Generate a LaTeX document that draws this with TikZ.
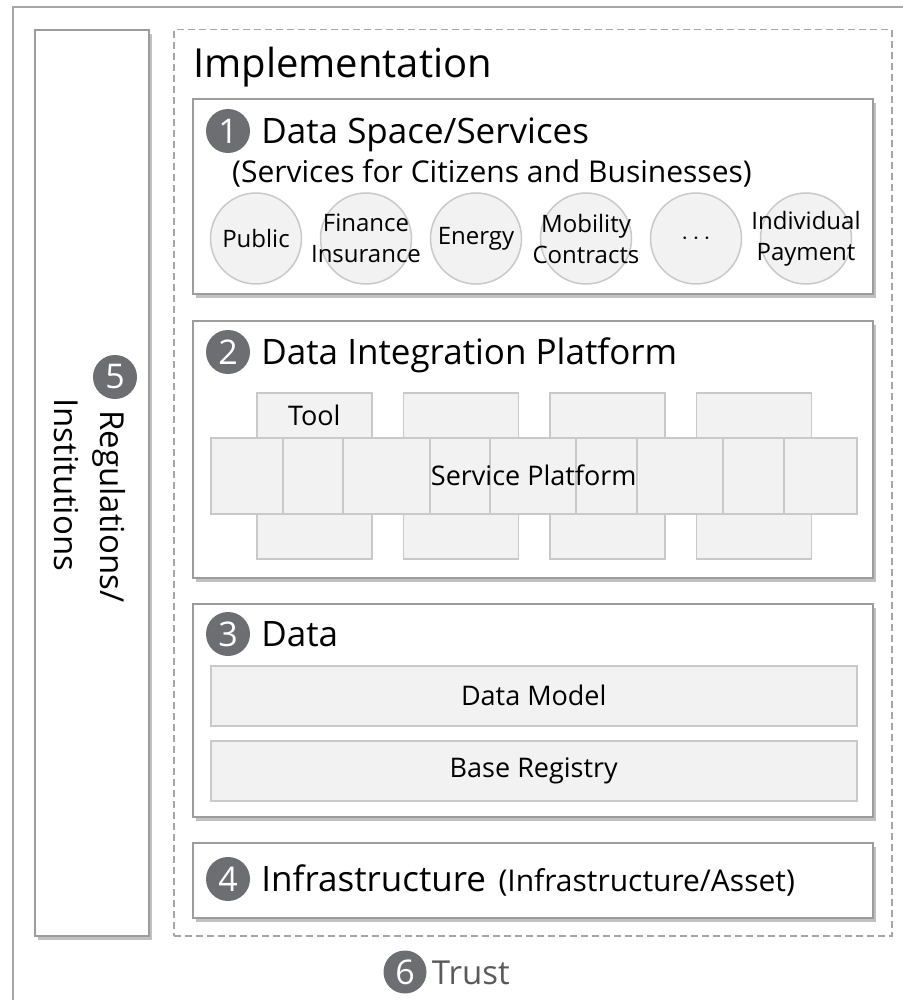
\documentclass[tikz,border=0pt]{standalone}
\usepackage{fontspec}
\setmainfont{Open Sans}
\usepackage{xcolor}
\usepackage{tikz}
\usetikzlibrary{positioning,shadows}
\definecolor{framegray}{HTML}{A6A6A6}
\definecolor{boxgray}{HTML}{9C9C9C}
\definecolor{panelfill}{HTML}{F2F2F2}
\definecolor{panelline}{HTML}{C9C9C9}
\definecolor{badgegray}{HTML}{6D6E71}
\definecolor{trustgray}{HTML}{5A5A5A}
\tikzset{
layer/.style={
draw=boxgray,
line width=2pt,
fill=white,
anchor=north west,
minimum width=680,
drop shadow={shadow xshift=3pt,shadow yshift=-4pt,opacity=0.35,fill=black!70}
},
panel/.style={
draw=panelline,
line width=1.5pt,
fill=panelfill,
anchor=north west,
inner sep=0pt,
font=\fontsize{27}{32}\selectfont
},
service/.style={
circle,
draw=panelline,
line width=1.5pt,
fill=panelfill,
minimum size=91pt,
inner sep=0pt
},
servicetext/.style={
align=center,
inner sep=0pt,
font=\fontsize{24}{31}\selectfont
},
badge/.style={
circle,
fill=badgegray,
text=white,
minimum size=44pt,
inner sep=0pt,
font=\fontsize{34}{34}\selectfont
},
heading/.style={
inner sep=0pt,
text height=25pt,
text depth=0pt,
font=\fontsize{35}{42}\selectfont
},
subtitle/.style={
inner sep=0pt,
font=\fontsize{30}{35}\selectfont
},
vtext/.style={
rotate=-90,
inner sep=0pt,
font=\fontsize{33}{40}\selectfont
}
}
\begin{document}
\begin{tikzpicture}[x=1pt,y=-1pt]

\useasboundingbox (0,0) rectangle (902,1000);

\node[draw=framegray,line width=2pt,anchor=north west,minimum width=920,minimum height=1020](frame) at (12,6){};

\node[draw=framegray,line width=1.5pt,dash pattern=on 7pt off 4pt,anchor=north west,minimum width=718,minimum height=906](impl) at (173,29){};

\node[layer,minimum width=114,minimum height=906](rules) at (34,29){};

\node[inner sep=0pt,anchor=base west,font=\fontsize{40}{48}\selectfont](impltitle) at (193,78){Implementation};

% layer 1
\node[layer,minimum height=195](space) at (192,98){};
\node[badge](b1) at (228,131){1};
\node[heading,right=11pt of b1](spacetitle){Data Space/Services};
\node[subtitle,anchor=base west](spacesub) at (232,183){(Services for Citizens and Businesses)};

\node[service](svc1) at (256,238.5){};
\node[service,right=17.5pt of svc1](svc2){};
\node[service,right=17.5pt of svc2](svc3){};
\node[service,right=17.5pt of svc3](svc4){};
\node[service,right=17.5pt of svc4](svc5){};
\node[service,right=17.5pt of svc5](svc6){};
\node[servicetext](svc1t) at (svc1){Public};
\node[servicetext](svc2t) at (svc2){Finance\\Insurance};
\node[servicetext](svc3t) at (svc3){Energy};
\node[servicetext](svc4t) at (svc4){Mobility\\Contracts};
\node[servicetext](svc5t) at (svc5){$\cdots$};
\node[servicetext](svc6t) at (svc6){Individual\\Payment};

% layer 2
\node[layer,minimum height=257](integ) at (192,320){};
\node[badge](b2) at (228,352){2};
\node[heading,right=11pt of b2](integtitle){Data Integration Platform};

\node[panel,minimum width=115,minimum height=45](tool1) at (256,392){Tool};
\node[panel,minimum width=115,minimum height=45,right=30pt of tool1](tool2){};
\node[panel,minimum width=115,minimum height=45,right=30pt of tool2](tool3){};
\node[panel,minimum width=115,minimum height=45,right=30pt of tool3](tool4){};
\node[panel,minimum width=115,minimum height=45](tool5) at (256,513){};
\node[panel,minimum width=115,minimum height=45,right=30pt of tool5](tool6){};
\node[panel,minimum width=115,minimum height=45,right=30pt of tool6](tool7){};
\node[panel,minimum width=115,minimum height=45,right=30pt of tool7](tool8){};

\node[panel,minimum width=646,minimum height=76](band) at (210,437){};
\draw[panelline,line width=1.5pt]
(283,437)--(283,513) (343,437)--(343,513)
(430,437)--(430,513) (490,437)--(490,513)
(576,437)--(576,513) (637,437)--(637,513)
(723,437)--(723,513) (784,437)--(784,513);
\node[inner sep=0pt,font=\fontsize{27}{32}\selectfont](bandtext) at (band){Service Platform};

% layer 3
\node[layer,minimum height=213](data) at (192,603){};
\node[badge](b3) at (228,634){3};
\node[heading,right=11pt of b3](datatitle){Data};
\node[panel,minimum width=646,minimum height=60](model) at (210,665){Data Model};
\node[panel,minimum width=646,minimum height=60,below=13.5pt of model](registry){Base Registry};

% layer 4
\node[layer,minimum height=75](infra) at (192,842){};
\node[badge](b4) at (228,879){4};
\node[heading,right=11pt of b4](infratitle){Infrastructure};
\node[subtitle,anchor=base west](infrasub) at ([xshift=12pt]infratitle.base east){(Infrastructure/Asset)};

% regulations
\node[badge](b5) at (115,377){5};
\node[vtext,anchor=base west](regtext) at (100,410){Regulations/};
\node[vtext,anchor=base west](insttext) at (54,398){Institutions};

% trust
\node[badge,minimum size=43pt](b6) at (405,972){6};
\node[heading,right=5pt of b6,text=trustgray,font=\fontsize{33}{40}\selectfont](trust){Trust};

\end{tikzpicture}
\end{document}
